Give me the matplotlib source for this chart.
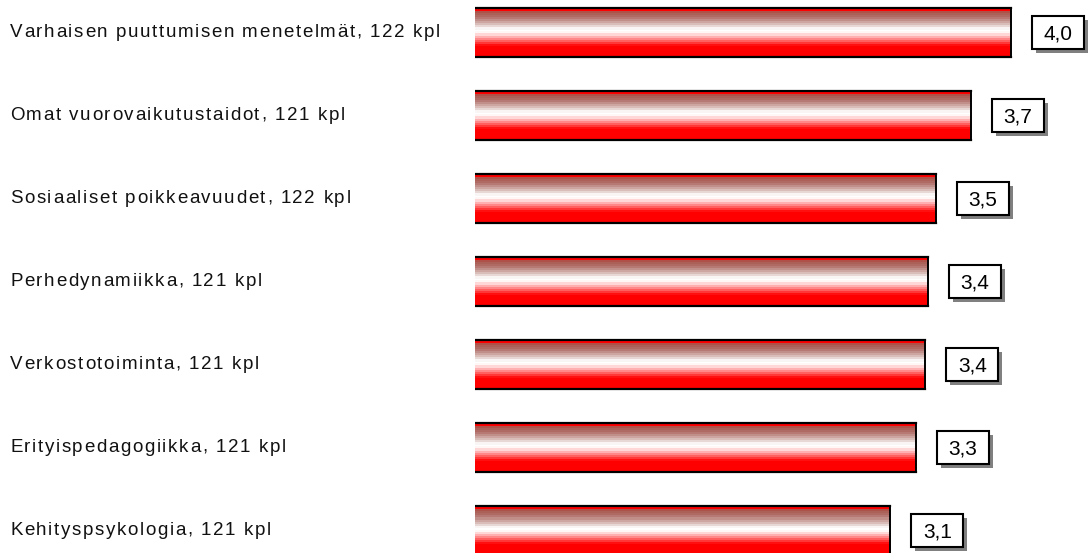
import matplotlib
matplotlib.use('Agg')
import matplotlib.pyplot as plt
from matplotlib.colors import LinearSegmentedColormap
from matplotlib.patches import Rectangle
from matplotlib import font_manager
from matplotlib.ft2font import FT2Font
import matplotlib.transforms as mtransforms
import numpy as np

# %% Data
categories = ['Varhaisen puuttumisen menetelmät, 122 kpl',
              'Omat vuorovaikutustaidot, 121 kpl',
              'Sosiaaliset poikkeavuudet, 122 kpl',
              'Perhedynamiikka, 121 kpl',
              'Verkostotoiminta, 121 kpl',
              'Erityispedagogiikka, 121 kpl',
              'Kehityspsykologia, 121 kpl']
values = [4.00, 3.70, 3.44, 3.38, 3.36, 3.29, 3.10]
value_labels = ['4,0', '3,7', '3,5', '3,4', '3,4', '3,3', '3,1']

# %% Bar shading: red -> dusty red -> white -> pink -> red (top to bottom)
stops = [(0.0, '#ff0000'), (0.05, '#ff0000'), (0.09, '#a8584e'),
         (0.20, '#b2706a'), (0.36, '#dcc4c0'), (0.45, '#ffffff'),
         (0.51, '#ffffff'), (0.56, '#ffdcdc'), (0.80, '#ff0000'),
         (1.0, '#ff0000')]
bar_cmap = LinearSegmentedColormap.from_list('shine', stops, N=24)
grad = np.linspace(0, 1, 300).reshape(-1, 1)

W, H = 1091, 553
fig = plt.figure(figsize=(W / 100, H / 100), dpi=100)
ax_left = 475 / W
ax = fig.add_axes([ax_left, 0, 1 - ax_left, 1])

px_x = 134.0   # pixels per unit on x
px_y = 83.0    # pixels per bar slot
ax.set_xlim(0, (W - 475) / px_x)
ax.set_ylim(6 + (H - 530) / px_y, -32 / px_y)
ax.axis('off')

bh = 49 / px_y
for i, v in enumerate(values):
    y0, y1 = i - bh / 2, i + bh / 2
    ax.imshow(grad, cmap=bar_cmap, aspect='auto', extent=[0, v, y1, y0],
              interpolation='nearest', zorder=2)
    ax.plot([0, v], [y0, y0], color='black', lw=1.6, zorder=3)
    ax.plot([0, v], [y1, y1], color='black', lw=1.6, zorder=3)
    ax.plot([v, v], [y0, y1], color='black', lw=1.4, zorder=3)

    # value box with drop shadow
    bw, bhh = 52 / px_x, 33 / px_y
    bx = v + 21 / px_x
    ax.add_patch(Rectangle((bx + 4 / px_x, i - bhh / 2 + 4 / px_y), bw, bhh,
                           facecolor='#808080', edgecolor='none', zorder=3))
    ax.add_patch(Rectangle((bx, i - bhh / 2), bw, bhh, facecolor='white',
                           edgecolor='black', lw=1.5, zorder=4))
    ax.text(bx + bw / 2, i + 0.02, value_labels[i], ha='center', va='center',
            fontsize=15, family='Liberation Sans', zorder=5)

# category labels: wide letter spacing like the original, so place char by char
lab_size = 13.5
tracking = 1.6   # extra px between letters
fp = font_manager.FontProperties(family='Liberation Sans', size=lab_size)
ft = FT2Font(font_manager.findfont(fp))
ft.set_size(lab_size, 100)

trans = mtransforms.blended_transform_factory(fig.transFigure, ax.transData)
for i, name in enumerate(categories):
    xpix = 10.0
    for ch in name:
        ax.text(xpix / W, i - 0.02, ch, transform=trans, ha='left', va='center_baseline',
                fontproperties=fp, color='#111111')
        g = ft.load_char(ord(ch))
        xpix += g.linearHoriAdvance / 65536 + tracking

fig.savefig('out.png', dpi=100)
